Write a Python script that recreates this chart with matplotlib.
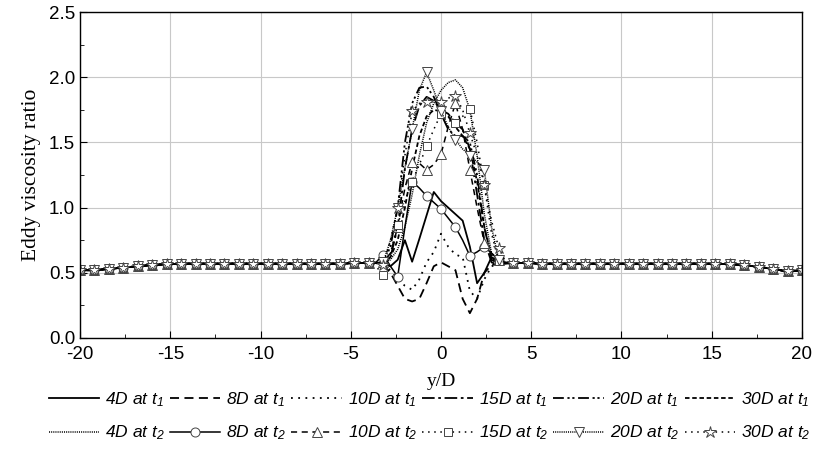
import matplotlib
matplotlib.use("Agg")
import matplotlib.pyplot as plt
from matplotlib.ticker import MultipleLocator

plt.rcParams['font.family'] = 'Liberation Sans'
plt.rcParams['axes.unicode_minus'] = False
plt.rcParams['mathtext.fontset'] = 'custom'
plt.rcParams['mathtext.it'] = 'Liberation Sans:italic'
plt.rcParams['mathtext.rm'] = 'Liberation Sans:italic'

# x positions (y/D): coarse far field, finer across the wake
x_left = [-20.0, -19.2, -18.4, -17.6, -16.8, -16.0, -15.2, -14.4, -13.6, -12.8, -12.0,
          -11.2, -10.4, -9.6, -8.8, -8.0, -7.2, -6.4, -5.6, -4.8, -4.0]
x_mid = [-3.6, -3.2, -2.8, -2.4, -2.0, -1.6, -1.2, -0.8, -0.4, 0.0,
         0.4, 0.8, 1.2, 1.6, 2.0, 2.4, 2.8, 3.2, 3.6]
x_right = [4.0, 4.8, 5.6, 6.4, 7.2, 8.0, 8.8, 9.6, 10.4, 11.2, 12.0,
           12.8, 13.6, 14.4, 15.2, 16.0, 16.8, 17.6, 18.4, 19.2, 20.0]
y_D = x_left + x_mid + x_right

# free-stream part, shared by all profiles
far_left = [0.52, 0.52, 0.53, 0.54, 0.55, 0.56, 0.565, 0.57, 0.57, 0.57, 0.57,
            0.57, 0.57, 0.57, 0.57, 0.57, 0.57, 0.57, 0.57, 0.575, 0.575]
far_right = [0.575, 0.575, 0.57, 0.57, 0.57, 0.57, 0.57, 0.57, 0.57, 0.57, 0.57,
             0.57, 0.57, 0.57, 0.57, 0.565, 0.56, 0.545, 0.53, 0.51, 0.52]

# wake part (x_mid)
d4_t1 = [0.575, 0.57, 0.55, 0.60, 0.75, 0.585, 0.76, 0.94, 1.12, 1.05, 1.0, 0.95, 0.90, 0.70, 0.42, 0.50, 0.62, 0.58, 0.575]
d8_t1 = [0.575, 0.56, 0.50, 0.40, 0.30, 0.28, 0.30, 0.42, 0.55, 0.58, 0.55, 0.52, 0.30, 0.19, 0.30, 0.50, 0.56, 0.57, 0.575]
d10_t1 = [0.575, 0.56, 0.52, 0.45, 0.40, 0.37, 0.45, 0.58, 0.66, 0.80, 0.70, 0.64, 0.62, 0.36, 0.30, 0.45, 0.55, 0.57, 0.575]
d15_t1 = [0.575, 0.58, 0.62, 0.85, 1.30, 1.60, 1.78, 1.85, 1.82, 1.75, 1.72, 1.65, 1.60, 1.45, 1.10, 0.75, 0.58, 0.56, 0.57]
d20_t1 = [0.575, 0.58, 0.70, 1.00, 1.50, 1.80, 1.92, 1.93, 1.85, 1.72, 1.60, 1.55, 1.55, 1.50, 1.25, 0.85, 0.60, 0.57, 0.575]
d30_t1 = [0.575, 0.58, 0.62, 0.75, 1.00, 1.30, 1.55, 1.70, 1.75, 1.74, 1.70, 1.62, 1.55, 1.45, 1.20, 0.85, 0.62, 0.57, 0.575]
d4_t2 = [0.575, 0.58, 0.60, 0.68, 0.85, 1.10, 1.40, 1.65, 1.80, 1.90, 1.96, 1.98, 1.92, 1.75, 1.40, 0.95, 0.65, 0.57, 0.575]
d8_t2 = [0.58, 0.64, 0.55, 0.47, 0.85, 1.20, 1.15, 1.09, 1.04, 0.99, 0.92, 0.85, 0.75, 0.63, 0.66, 0.70, 0.65, 0.60, 0.58]
d10_t2 = [0.575, 0.58, 0.65, 0.85, 1.15, 1.35, 1.34, 1.29, 1.33, 1.41, 1.62, 1.80, 1.60, 1.29, 1.00, 0.73, 0.65, 0.60, 0.58]
d15_t2 = [0.55, 0.48, 0.65, 0.87, 1.05, 1.20, 1.33, 1.47, 1.60, 1.72, 1.70, 1.65, 1.70, 1.76, 1.50, 1.17, 0.80, 0.59, 0.57]
d20_t2 = [0.575, 0.58, 0.75, 1.00, 1.30, 1.60, 1.90, 2.04, 1.90, 1.74, 1.62, 1.52, 1.45, 1.40, 1.35, 1.29, 0.85, 0.60, 0.575]
d30_t2 = [0.57, 0.56, 0.75, 1.00, 1.40, 1.74, 1.80, 1.81, 1.81, 1.81, 1.84, 1.86, 1.75, 1.57, 1.40, 1.17, 0.90, 0.69, 0.58]

labels_t1 = ['4D at $t_1$', '8D at $t_1$', '10D at $t_1$', '15D at $t_1$', '20D at $t_1$', '30D at $t_1$']
labels_t2 = ['4D at $t_2$', '8D at $t_2$', '10D at $t_2$', '15D at $t_2$', '20D at $t_2$', '30D at $t_2$']
series_t1 = [d4_t1, d8_t1, d10_t1, d15_t1, d20_t1, d30_t1]
series_t2 = [d4_t2, d8_t2, d10_t2, d15_t2, d20_t2, d30_t2]

styles_t1 = ['-', (0, (5, 3)), (0, (1, 3)), (0, (7, 2, 1.5, 2)), (0, (6, 2, 1.2, 1.5, 1.2, 2)), (0, (2.5, 1.5))]
styles_t2 = [(0, (0.7, 0.7)), '-', (0, (4, 3)), (0, (1, 3)), (0, (0.7, 0.7)), (0, (1, 3))]
markers_t2 = [None, 'o', '^', 's', 'v', '*']
msizes_t2 = [0, 6.5, 7, 6, 7, 9]

# markers every 0.8 in y/D
mark_idx = [i for i, v in enumerate(y_D) if abs((v + 20) / 0.8 - round((v + 20) / 0.8)) < 1e-6]

fig = plt.figure(figsize=(8.26, 4.5), dpi=100)
ax = fig.add_axes([0.0969, 0.249, 0.874, 0.724])

handles = []
for vals, ls, lab in zip(series_t1, styles_t1, labels_t1):
    h, = ax.plot(y_D, far_left + vals + far_right, color='black', ls=ls, lw=1.3, label=lab)
    handles.append(h)
for vals, ls, mk, ms, lab in zip(series_t2, styles_t2, markers_t2, msizes_t2, labels_t2):
    h, = ax.plot(y_D, far_left + vals + far_right, color='black', ls=ls, lw=1.1,
                 marker=mk, ms=ms, mfc='white', mec='#444444', mew=0.7,
                 markevery=mark_idx, label=lab)
    handles.append(h)

ax.set_xlim(-20, 20)
ax.set_ylim(0, 2.5)
ax.xaxis.set_major_locator(MultipleLocator(5))
ax.xaxis.set_minor_locator(MultipleLocator(2.5))
ax.yaxis.set_major_locator(MultipleLocator(0.5))
ax.yaxis.set_minor_locator(MultipleLocator(0.25))
ax.tick_params(which='both', direction='in', top=False, right=False, labelsize=13.5)
ax.tick_params(which='major', length=5)
ax.tick_params(which='minor', length=3)
ax.tick_params(axis='x', pad=6)
ax.grid(True, which='major', color='#c8c8c8', lw=0.8)
ax.set_axisbelow(True)
for sp in ax.spines.values():
    sp.set_linewidth(1.0)
ax.set_yticks([0, 0.5, 1.0, 1.5, 2.0, 2.5])
ax.set_yticklabels(['0.0', '0.5', '1.0', '1.5', '2.0', '2.5'])

ax.set_xlabel('y/D', family='Liberation Serif', fontsize=14, labelpad=7)
ax.set_ylabel('Eddy viscosity ratio', family='Liberation Serif', fontsize=15.5, labelpad=6)

# two rows: t1 on top, t2 below
order = []
for i in range(6):
    order += [handles[i], handles[i + 6]]
fig.legend(order, [h.get_label() for h in order], ncol=6, loc='upper center',
           bbox_to_anchor=(0.52, 0.133), frameon=False, handlelength=2.9,
           handletextpad=0.35, columnspacing=0.3, labelspacing=0.85,
           borderaxespad=0, borderpad=0,
           prop={'family': 'Liberation Sans', 'style': 'italic', 'size': 12.5})

fig.savefig('out.png', dpi=100)
